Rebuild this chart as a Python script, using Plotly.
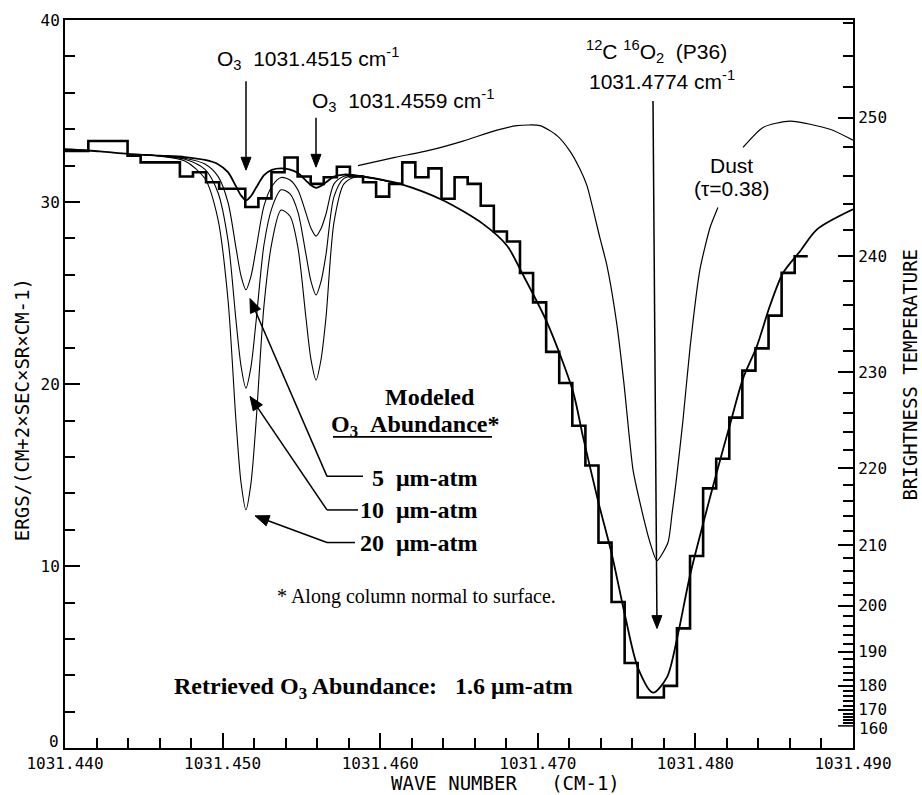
import numpy as np
import plotly.graph_objects as go

# ---------------- data ----------------
# Observed spectrum: bin edges (cm-1) and radiance per bin
bin_edges = [1031.43982, 1031.44065, 1031.44148, 1031.44231, 1031.44314, 1031.44397,
             1031.44480, 1031.44563, 1031.44646, 1031.44729, 1031.44812, 1031.44895,
             1031.44978, 1031.45061, 1031.45144, 1031.45227, 1031.45310, 1031.45393,
             1031.45476, 1031.45559, 1031.45642, 1031.45725, 1031.45808, 1031.45891,
             1031.45974, 1031.46057, 1031.46140, 1031.46223, 1031.46306, 1031.46389,
             1031.46472, 1031.46555, 1031.46638, 1031.46721, 1031.46804, 1031.46887,
             1031.46970, 1031.47053, 1031.47136, 1031.47219, 1031.47302, 1031.47385,
             1031.47468, 1031.47551, 1031.47634, 1031.47717, 1031.47800, 1031.47883,
             1031.47966, 1031.48049, 1031.48132, 1031.48215, 1031.48298, 1031.48381,
             1031.48464, 1031.48547, 1031.48630, 1031.48713]
obs_radiance = [32.81, 32.81, 33.35, 33.35, 33.35, 32.54, 32.18, 32.18, 32.18, 31.40,
                31.64, 31.09, 30.73, 30.73, 29.73, 30.20, 31.64, 32.45, 31.40, 31.00,
                31.36, 31.94, 31.40, 31.09, 30.30, 31.00, 32.18, 31.36, 31.85, 30.18,
                31.36, 31.00, 29.80, 28.38, 27.83, 26.10, 24.49, 21.77, 20.06, 17.71,
                15.53, 11.29, 8.03, 4.68, 2.78, 2.78, 3.42, 6.58, 10.56, 14.27,
                15.90, 18.16, 20.74, 21.96, 23.76, 26.11, 27.02]

# Best-fit model (1.6 um-atm O3 + CO2 line)
model_wn = [1031.44000, 1031.44222, 1031.44400, 1031.44603, 1031.44761, 1031.44888,
            1031.44971, 1031.45034, 1031.45085, 1031.45117, 1031.45148, 1031.45180,
            1031.45212, 1031.45263, 1031.45313, 1031.45371, 1031.45428, 1031.45478,
            1031.45529, 1031.45561, 1031.45593, 1031.45624, 1031.45656, 1031.45707,
            1031.45770, 1031.45846, 1031.45948, 1031.46126, 1031.46398, 1031.46652,
            1031.46805, 1031.46900, 1031.47058, 1031.47223, 1031.47287, 1031.47382,
            1031.47471, 1031.47553, 1031.47636, 1031.47731, 1031.47820, 1031.47883,
            1031.47966, 1031.48048, 1031.48137, 1031.48220, 1031.48302, 1031.48391,
            1031.48473, 1031.48556, 1031.48664, 1031.48772, 1031.49000]
model_rad = [32.90, 32.78, 32.65, 32.55, 32.47, 32.31, 32.08, 31.64, 30.86, 30.36,
             30.10, 30.33, 30.78, 31.48, 31.77, 31.85, 31.78, 31.59, 31.18, 30.92,
             30.78, 30.88, 31.08, 31.40, 31.51, 31.47, 31.33, 31.00, 30.10, 28.80,
             27.60, 26.10, 23.40, 19.60, 17.10, 13.60, 10.60, 7.30, 4.40, 3.05,
             3.90, 6.00, 9.50, 12.30, 15.20, 17.80, 20.30, 22.10, 24.30, 26.10,
             27.30, 28.50, 29.60]

# Modeled O3 abundances
o3_wn = [1031.44476, 1031.44603, 1031.44761, 1031.44888, 1031.44971, 1031.45034,
         1031.45085, 1031.45117, 1031.45148, 1031.45180, 1031.45212, 1031.45263,
         1031.45313, 1031.45371, 1031.45428, 1031.45478, 1031.45529, 1031.45561,
         1031.45593, 1031.45624, 1031.45656, 1031.45707, 1031.45770, 1031.45846,
         1031.45948, 1031.46094]
o3_5um = [32.61, 32.54, 32.41, 32.09, 31.41, 29.99, 27.48, 25.94, 25.18, 25.92,
          27.40, 29.80, 30.87, 31.35, 31.21, 30.66, 29.39, 28.56, 28.13, 28.53,
          29.34, 31.00, 31.42, 31.46, 31.33, 31.05]
o3_10um = [32.61, 32.53, 32.35, 31.79, 30.51, 27.91, 23.49, 20.99, 19.78, 20.95,
           23.41, 27.68, 29.68, 30.67, 30.45, 29.45, 27.12, 25.64, 24.89, 25.62,
           27.12, 30.30, 31.30, 31.44, 31.32, 31.05]
o3_20um = [32.61, 32.52, 32.25, 31.29, 29.04, 24.66, 17.96, 14.58, 13.09, 14.55,
           17.87, 24.35, 27.79, 29.56, 29.22, 27.50, 23.63, 21.34, 20.22, 21.32,
           23.66, 28.90, 31.00, 31.38, 31.30, 31.05]

# Dust model (tau = 0.38); None = gap where the label sits
dust_wn = [1031.45859, 1031.46094, 1031.46316, 1031.46525, 1031.46741, 1031.46868,
           1031.47014, 1031.47122, 1031.47204, 1031.47268, 1031.47312, 1031.47395,
           1031.47439, 1031.47503, 1031.47547, 1031.47604, 1031.47648, 1031.47712,
           1031.47756, 1031.47826, 1031.47852, 1031.47877, 1031.47921, 1031.47966,
           1031.48029, 1031.48093, 1031.48143, None, 1031.48302, 1031.48429,
           1031.48600, 1031.48854, 1031.49000]
dust_rad = [32.0, 32.45, 32.85, 33.35, 33.95, 34.2, 34.2, 33.65, 32.8, 31.8,
            30.9, 28.0, 26.5, 23.2, 20.0, 15.3, 13.5, 11.3, 10.3, 11.3,
            12.9, 14.6, 18.0, 22.0, 26.3, 28.6, 29.7, None, 33.0, 34.1,
            34.45, 34.0, 33.4]

# Axis ticks
x_range = [1031.44, 1031.49]
x_step, x_minor_step = 0.01, 0.002
y_step, y_minor_step = 10, 2
temp_major = [170, 180, 190, 200, 210, 220, 230, 240, 250]
temp_low = 160
temp_minor = [t for t in range(160, 258, 2) if t % 10 != 0]


def planck(T, nu=1031.465):
    c1, c2 = 1.191042e-5, 1.4387769
    return c1 * nu ** 3 / (np.exp(c2 * nu / np.asarray(T, float)) - 1.0)


# ---------------- layout helpers (pixel -> paper) ----------------
W, H = 922, 795
ML, MR, MT, MB = 65, 69, 11, 47
PW, PH = W - ML - MR, H - MT - MB


def PX(px):
    return (px - ML) / PW


def PY(py):
    return (H - MB - py) / PH


BLACK = "black"
MONO = "DejaVu Sans Mono"
SANS = "Liberation Sans"
SERIF = "Liberation Serif"
NB = "\u00a0"

fig = go.Figure()

fig.add_trace(go.Scatter(x=bin_edges, y=obs_radiance + [obs_radiance[-1]], mode="lines",
                         line=dict(color=BLACK, width=2.6, shape="hv"), showlegend=False))
fig.add_trace(go.Scatter(x=model_wn, y=model_rad, mode="lines",
                         line=dict(color=BLACK, width=1.8, shape="spline", smoothing=0.8),
                         showlegend=False))
for ys in (o3_5um, o3_10um, o3_20um):
    fig.add_trace(go.Scatter(x=o3_wn, y=ys, mode="lines",
                             line=dict(color=BLACK, width=1.1, shape="spline", smoothing=0.8),
                             showlegend=False))
fig.add_trace(go.Scatter(x=dust_wn, y=dust_rad, mode="lines",
                         line=dict(color=BLACK, width=1.2, shape="spline", smoothing=0.6),
                         connectgaps=False, showlegend=False))
# invisible trace to activate right axis
fig.add_trace(go.Scatter(x=bin_edges[:1], y=obs_radiance[:1], yaxis="y2", mode="markers",
                         marker=dict(opacity=0), showlegend=False, hoverinfo="skip"))

tickfont = dict(family=MONO, size=16, color=BLACK)
fig.update_layout(
    width=W, height=H,
    margin=dict(l=ML, r=MR, t=MT, b=MB, pad=0),
    plot_bgcolor="white", paper_bgcolor="white",
    xaxis=dict(range=x_range, tickmode="linear", tick0=x_range[0], dtick=x_step,
               tickformat=".3f",
               ticks="inside", ticklen=15, tickwidth=1.5, tickcolor=BLACK,
               showline=True, linewidth=2, linecolor=BLACK, mirror=True,
               showgrid=False, zeroline=False, tickfont=tickfont,
               minor=dict(tick0=x_range[0], dtick=x_minor_step, ticks="inside", ticklen=10,
                          tickwidth=1.5, tickcolor=BLACK, showgrid=False)),
    yaxis=dict(range=[0.01, 40], tickmode="linear", tick0=0, dtick=y_step,
               ticks="inside", ticklen=15, tickwidth=1.5, tickcolor=BLACK,
               showline=True, linewidth=2, linecolor=BLACK, mirror=False,
               showgrid=False, zeroline=False, tickfont=tickfont,
               minor=dict(tick0=0, dtick=y_minor_step, ticks="inside", ticklen=10,
                          tickwidth=1.5, tickcolor=BLACK, showgrid=False)),
    yaxis2=dict(range=[0.01, 40], overlaying="y", side="right", anchor="x",
                tickmode="array", tickvals=list(planck(temp_major)),
                ticktext=[str(t) for t in temp_major],
                ticks="inside", ticklen=15, tickwidth=1.5, tickcolor=BLACK,
                showline=True, linewidth=2, linecolor=BLACK,
                showgrid=False, zeroline=False, tickfont=tickfont,
                minor=dict(tickmode="array", tickvals=list(planck(temp_minor)),
                           ticks="inside", ticklen=10, tickwidth=1.5, tickcolor=BLACK,
                           showgrid=False)),
)

ann = []
shapes = []


def text(px, py, s, font, xanchor="center", yanchor="middle", angle=0):
    ann.append(dict(x=PX(px), y=PY(py), xref="paper", yref="paper", text=s, showarrow=False,
                    xanchor=xanchor, yanchor=yanchor, font=font, textangle=angle))


def seg(x0, y0, x1, y1, width=1.5):
    shapes.append(dict(type="line", xref="paper", yref="paper", x0=PX(x0), x1=PX(x1),
                       y0=PY(y0), y1=PY(y1), line=dict(color=BLACK, width=width)))


def arrow(px_tip, py_tip, px_tail, py_tail, head=13, half=5):
    dx, dy = px_tip - px_tail, py_tip - py_tail
    n = (dx * dx + dy * dy) ** 0.5
    ux, uy = dx / n, dy / n
    bx, by = px_tip - ux * head, py_tip - uy * head
    seg(px_tail, py_tail, bx, by)
    p1 = (bx - uy * half, by + ux * half)
    p2 = (bx + uy * half, by - ux * half)
    path = "M {:.5f},{:.5f} L {:.5f},{:.5f} L {:.5f},{:.5f} Z".format(
        PX(px_tip), PY(py_tip), PX(p1[0]), PY(p1[1]), PX(p2[0]), PY(p2[1]))
    shapes.append(dict(type="path", xref="paper", yref="paper", path=path,
                       fillcolor=BLACK, line=dict(color=BLACK, width=1)))


sans = dict(family=SANS, size=21, color=BLACK)
serif_b = dict(family=SERIF, size=24, color=BLACK)
serif = dict(family=SERIF, size=20, color=BLACK)
mono_t = dict(family=MONO, size=19, color=BLACK)

text(215, 50, "O<sub>3</sub>" + NB * 2 + "1031.4515 cm<sup>-1</sup>", sans, xanchor="left")
text(310, 92, "O<sub>3</sub>" + NB * 2 + "1031.4559 cm<sup>-1</sup>", sans, xanchor="left")
text(656, 43, "<sup>12</sup>C <sup>16</sup>O<sub>2</sub>" + NB * 2 + "(P36)", sans)
text(662, 72, "1031.4774 cm<sup>-1</sup>", sans)
text(731, 158, "Dust", sans)
text(731, 182, "(τ=0.38)", sans)

arrow(246, 163, 246, 73)
arrow(316, 160, 316, 110)
arrow(657, 627, 653, 93)

text(430, 393, "<b>Modeled</b>", serif_b)
text(415, 422, "<b>O<sub>3</sub>" + NB * 2 + "Abundance*</b>", serif_b)
text(480, 475, "<b>5" + NB * 2 + "μm-atm</b>", serif_b, xanchor="right")
text(480, 507, "<b>10" + NB * 2 + "μm-atm</b>", serif_b, xanchor="right")
text(480, 540, "<b>20" + NB * 2 + "μm-atm</b>", serif_b, xanchor="right")
arrow(250, 293, 327, 473, head=14, half=5.5)
arrow(250, 392, 327, 507, head=14, half=5.5)
arrow(255, 513, 327, 540, head=14, half=5.5)
seg(327, 473, 363, 473)
seg(327, 507, 358, 507)
seg(327, 540, 355, 540)
seg(333, 433, 492, 433, width=1.6)

text(275, 595, "* Along column normal to surface.", serif, xanchor="left")
text(172, 687, "<b>Retrieved O<sub>3</sub> Abundance:" + NB * 3 + "1.6 μm-atm</b>", serif_b,
     xanchor="left")

# axis titles and corner tick labels
text(505, 783, "WAVE NUMBER" + NB * 3 + "(CM-1)", mono_t)
text(22, 406, "ERGS/(CM+2×SEC×SR×CM-1)", mono_t, angle=-90)
text(910, 370, "BRIGHTNESS TEMPERATURE", mono_t, angle=-90)
text(61, 741, "0", tickfont, xanchor="right")
y160 = float(planck(temp_low))
text(857, 728, str(temp_low), tickfont, xanchor="left")
shapes.append(dict(type="line", xref="paper", yref="y2", x0=1 - 15 / PW, x1=1,
                   y0=y160, y1=y160, line=dict(color=BLACK, width=1.5)))

fig.update_layout(annotations=ann, shapes=shapes)

fig.write_html("out.html")
